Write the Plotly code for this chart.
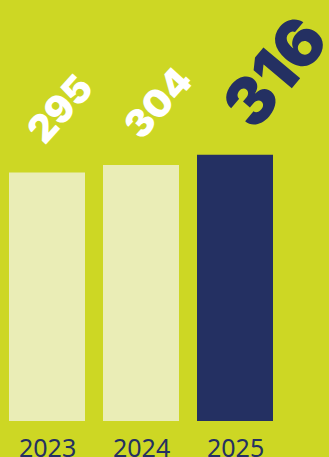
import plotly.graph_objects as go

years = ["2023", "2024", "2025"]
values = [295, 304, 316]
bar_colors = ["#EAEDB6", "#EAEDB6", "#243062"]
label_colors = ["#FFFFFF", "#FFFFFF", "#243062"]
label_sizes = [38, 38, 66]
label_angles = [-48, -48, -50]
label_shifts_x = [13, 16, 39]
label_shifts_y = [64, 62, 83]

BG = "#CDD724"

fig = go.Figure()
fig.add_trace(go.Bar(
    x=years, y=values, marker=dict(color=bar_colors, line=dict(width=0)),
    hoverinfo="skip",
))

for i, (yr, v, c, s, a, dx, dy) in enumerate(zip(years, values, label_colors, label_sizes,
                                                 label_angles, label_shifts_x, label_shifts_y)):
    fig.add_annotation(
        x=i, y=v, xref="x", yref="y", text=str(v), showarrow=False,
        xanchor="center", yanchor="middle", xshift=dx, yshift=dy,
        textangle=a,
        font=dict(family="Inter", size=s, color=c, weight=900),
    )
    fig.add_annotation(
        x=i, y=0, xref="x", yref="y", text=yr, showarrow=False,
        xanchor="center", yanchor="top", yshift=-7,
        font=dict(family="Noto Sans", size=25, color="#243062"),
    )

fig.update_layout(
    width=329, height=457,
    margin=dict(l=0, r=47, t=84, b=36, pad=0),
    paper_bgcolor=BG, plot_bgcolor=BG,
    bargap=0.1915,
    showlegend=False,
    xaxis=dict(type="category", range=[-0.5, 2.5], showticklabels=False, showgrid=False,
               zeroline=False, showline=False, ticks=""),
    yaxis=dict(range=[0, 400], visible=False, showgrid=False, zeroline=False),
)

fig.write_html("out.html")
